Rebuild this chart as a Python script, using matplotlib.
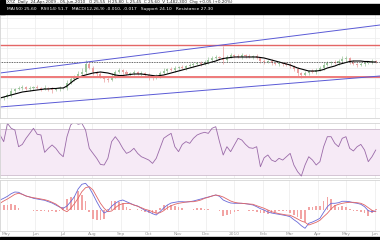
import numpy as np
import matplotlib
matplotlib.use("Agg")
import matplotlib.pyplot as plt
import matplotlib.dates as mdates
from matplotlib.patches import Rectangle
from matplotlib.ticker import FuncFormatter

# --- data (one point every 4 calendar days) ---
start = np.datetime64("2009-04-24")
dates = mdates.date2num(start + np.arange(102) * np.timedelta64(4, "D"))

close = [22.0, 22.1, 22.3, 22.7, 22.9, 23.0, 23.1, 22.9, 23.0, 23.1,
         23.0, 22.9, 23.0, 22.9, 22.8, 22.9, 23.0, 23.0, 23.5, 23.9,
         24.1, 24.4, 24.6, 25.4, 25.0, 24.6, 24.4, 24.1, 23.9, 23.8,
         24.2, 24.6, 24.8, 24.6, 24.4, 24.5, 24.6, 24.4, 24.5, 24.3,
         24.1, 24.0, 24.2, 24.5, 24.7, 24.9, 24.8, 25.0, 25.1, 25.0,
         25.2, 25.3, 25.4, 25.5, 25.4, 25.6, 25.8, 26.0, 26.1, 26.0,
         25.8, 26.1, 26.3, 26.2, 26.1, 26.3, 26.2, 26.1, 26.2, 26.0,
         25.7, 25.6, 25.7, 25.5, 25.4, 25.5, 25.4, 25.3, 25.2, 24.9,
         24.5, 24.3, 24.5, 24.7, 24.6, 24.8, 25.0, 25.3, 25.5, 25.6,
         25.5, 25.7, 25.9, 26.0, 25.6, 25.4, 25.3, 25.4, 25.5, 25.6,
         25.7, 25.6]
first_open = 21.9
wick_up = [0.2, 0.1, 0.2, 0.3, 0.1, 0.2, 0.2, 0.1, 0.2, 0.1,
           0.2, 0.1, 0.3, 0.1, 0.2, 0.1, 0.2, 0.1, 0.3, 0.2,
           0.2, 0.3, 0.4, 0.4, 0.2, 0.2, 0.1, 0.2, 0.1, 0.2,
           0.3, 0.2, 0.2, 0.1, 0.2, 0.1, 0.2, 0.1, 0.2, 0.1,
           0.2, 0.1, 0.2, 0.2, 0.3, 0.1, 0.2, 0.2, 0.1, 0.2,
           0.1, 0.2, 0.2, 0.1, 0.2, 0.2, 0.3, 0.2, 0.2, 0.1,
           1.2, 0.2, 0.2, 0.1, 0.2, 0.2, 0.1, 0.2, 0.1, 0.2,
           0.1, 0.2, 0.1, 0.2, 0.1, 0.2, 0.1, 0.2, 0.2, 0.1,
           0.2, 0.1, 0.2, 0.1, 0.2, 0.2, 0.2, 0.3, 0.2, 0.1,
           0.2, 0.2, 0.3, 0.2, 0.1, 0.2, 0.1, 0.2, 0.2, 0.1,
           0.2, 0.1]
wick_dn = [0.1, 0.2, 0.1, 0.2, 0.2, 0.1, 0.2, 0.1, 0.2, 0.2,
           0.1, 0.2, 0.1, 0.2, 0.3, 0.1, 0.2, 0.1, 0.2, 0.1,
           0.2, 0.1, 0.2, 0.2, 0.1, 0.3, 0.2, 0.1, 0.3, 0.2,
           0.1, 0.2, 0.1, 0.2, 0.1, 0.2, 0.2, 0.1, 0.2, 0.2,
           0.3, 0.2, 0.1, 0.2, 0.1, 0.2, 0.1, 0.2, 0.2, 0.1,
           0.2, 0.1, 0.2, 0.1, 0.2, 0.1, 0.2, 0.1, 0.2, 0.2,
           0.4, 0.2, 0.1, 0.2, 0.1, 0.2, 0.2, 0.1, 0.2, 0.1,
           0.2, 0.2, 0.1, 0.2, 0.1, 0.2, 0.2, 0.1, 0.2, 0.2,
           0.3, 0.3, 0.2, 0.2, 0.1, 0.2, 0.1, 0.2, 0.1, 0.2,
           0.1, 0.2, 0.1, 0.3, 0.2, 0.1, 0.2, 0.1, 0.2, 0.1,
           0.2, 0.1]
ma = [22.0, 22.1, 22.2, 22.3, 22.4, 22.5, 22.6, 22.65, 22.7, 22.75,
      22.8, 22.85, 22.9, 22.9, 22.95, 22.95, 23.0, 23.0,
      23.2, 23.5, 23.8, 24.0, 24.2, 24.3, 24.4, 24.5, 24.55, 24.6,
      24.55, 24.5, 24.4, 24.3, 24.25, 24.25, 24.3, 24.35, 24.4, 24.4,
      24.4, 24.35, 24.3, 24.25, 24.2, 24.25, 24.3, 24.4, 24.5, 24.6,
      24.7, 24.8, 24.9, 25.0, 25.1, 25.2, 25.3, 25.4, 25.5, 25.6,
      25.7, 25.85, 25.95, 26.0, 26.05,
      26.1, 26.1, 26.1, 26.1, 26.1, 26.1, 26.1, 26.05,
      26.0, 25.9, 25.8, 25.7, 25.6, 25.5, 25.4, 25.3, 25.15,
      25.0, 24.9, 24.8, 24.7, 24.7, 24.7, 24.75, 24.85, 25.0, 25.1,
      25.2, 25.35, 25.45, 25.55, 25.65, 25.7, 25.7, 25.7, 25.65, 25.65,
      25.6, 25.6]

resistance = 27.3
support = 24.1
pivot = 25.6
channel_upper = [24.5, 29.3]
channel_lower = [21.1, 24.2]

rsi = [64.8, 59.0, 74.9, 70.6, 69.1, 54.6, 56.6, 61.9, 66.2, 70.6,
       65.4, 64.8, 49.7, 53.2, 56.1, 53.2, 48.8, 45.9, 63.3, 73.5,
       76.4, 74.1, 74.9, 69.1, 53.2, 48.8, 44.5, 39.2, 38.7, 44.5,
       59.0, 63.3, 59.0, 53.2, 48.8, 50.3, 53.2, 48.8, 45.9, 44.5,
       43.0, 40.1, 44.5, 53.2, 61.9, 64.2, 66.2, 54.6, 50.3, 56.6,
       59.0, 57.5, 61.9, 64.8, 66.2, 67.1, 66.2, 70.6, 72.0, 59.0,
       47.4, 54.6, 50.3, 56.1, 61.9, 60.4, 56.6, 53.7, 53.2, 54.6,
       37.2, 45.0, 47.4, 43.0, 41.6, 44.5, 43.0, 45.9, 48.8, 38.7,
       32.9, 29.1, 38.7, 45.9, 43.0, 38.7, 41.6, 54.6, 63.3, 63.3,
       57.5, 54.6, 61.9, 63.3, 53.2, 50.9, 54.6, 56.6, 51.7, 41.6,
       45.9, 51.7]

macd = [0.100, 0.117, 0.137, 0.163, 0.180, 0.177, 0.157, 0.140, 0.130, 0.117,
        0.110, 0.103, 0.097, 0.083, 0.070, 0.050, 0.030, 0.017, 0.040, 0.083,
        0.133, 0.210, 0.257, 0.267, 0.223, 0.157, 0.083, 0.017, -0.030, -0.010,
        0.037, 0.067, 0.090, 0.100, 0.083, 0.067, 0.050, 0.040, 0.017, -0.003,
        -0.017, -0.037, -0.050, -0.017, 0.020, 0.050, 0.070, 0.077, 0.083, 0.083,
        0.080, 0.083, 0.090, 0.100, 0.110, 0.120, 0.130, 0.140, 0.150, 0.137,
        0.100, 0.083, 0.070, 0.067, 0.067, 0.067, 0.063, 0.057, 0.050, 0.033,
        0.013, 0.000, -0.020, -0.030, -0.037, -0.043, -0.050, -0.057, -0.067, -0.097,
        -0.123, -0.157, -0.183, -0.133, -0.120, -0.103, -0.083, -0.023, 0.033, 0.067,
        0.067, 0.073, 0.087, 0.087, 0.083, 0.073, 0.067, 0.057, 0.033, -0.007,
        -0.017, -0.010]
signal = [0.067, 0.090, 0.110, 0.133, 0.157, 0.167, 0.157, 0.140, 0.130, 0.123,
          0.117, 0.110, 0.103, 0.093, 0.077, 0.060, 0.033, 0.000, -0.017, 0.017,
          0.063, 0.117, 0.183, 0.223, 0.233, 0.200, 0.133, 0.067, 0.017, -0.017,
          -0.010, 0.023, 0.050, 0.063, 0.067, 0.063, 0.050, 0.037, 0.023, 0.007,
          -0.003, -0.017, -0.033, -0.027, -0.007, 0.023, 0.043, 0.057, 0.067, 0.073,
          0.080, 0.083, 0.083, 0.090, 0.100, 0.117, 0.127, 0.140, 0.150, 0.143,
          0.130, 0.110, 0.090, 0.077, 0.070, 0.067, 0.063, 0.060, 0.057, 0.043,
          0.030, 0.017, 0.000, -0.017, -0.027, -0.037, -0.043, -0.050, -0.053, -0.070,
          -0.090, -0.110, -0.123, -0.150, -0.137, -0.123, -0.103, -0.067, -0.033, 0.010,
          0.043, 0.057, 0.067, 0.073, 0.077, 0.077, 0.073, 0.067, 0.050, 0.023,
          -0.003, -0.017]

header_top = "XYZ  Daily  24-Apr-2009 - 05-Jun-2010   O 25.55  H 25.80  L 25.45  C 25.60  V 1,482,300  Chg +0.05 (+0.20%)"
header_band = "MA(50) 25.60   RSI(14) 51.7   MACD(12,26,9) -0.010, -0.017   Support 24.10   Resistance 27.30"

# --- figure ---
W, H = 380, 240
fig = plt.figure(figsize=(W / 100, H / 100), dpi=100)
fig.patch.set_facecolor("white")

def frac(top, bottom):
    return [0.0, 1 - bottom / H, 1.0, (bottom - top) / H]

ax = fig.add_axes(frac(14, 118))
ax_rsi = fig.add_axes(frac(123, 178), sharex=ax)
ax_macd = fig.add_axes(frac(180, 231), sharex=ax)

x0 = mdates.date2num(start)
x1 = x0 + W / 0.93
grid_c = "#ececec"

for a in (ax, ax_rsi, ax_macd):
    a.set_xlim(x0, x1)
    a.tick_params(length=0, labelleft=False, labelbottom=False)
    a.xaxis.set_major_locator(mdates.MonthLocator())
    a.grid(axis="x", color=grid_c, lw=0.5)
    a.set_axisbelow(True)
    for s in a.spines.values():
        s.set_color("#d4d4d4")
        s.set_linewidth(0.6)

# price panel
opens = np.array([first_open] + close[:-1])
closes = np.array(close)
highs = np.maximum(opens, closes) + np.array(wick_up)
lows = np.minimum(opens, closes) - np.array(wick_dn)
colors = np.where(closes >= opens, "#9cc59c", "#eaa0a0")
ax.vlines(dates, lows, highs, colors=colors, lw=0.5)
ax.bar(dates, closes - opens, bottom=opens, width=2.2, color=colors, lw=0)

ax.plot(dates, ma, color="black", lw=0.8)
ax.axhline(resistance, color="#e46666", lw=1.0)
ax.axhline(support, color="#ee7a7a", lw=1.4)
ax.axhline(pivot, color="#333333", lw=0.6, ls=(0, (1, 1)))
ax.plot([x0, x1], channel_upper, color="#5a5ad6", lw=0.7)
ax.plot([x0, x1], channel_lower, color="#5a5ad6", lw=0.7)
ax.set_ylim(20.0, 30.4)
ax.grid(axis="y", color=grid_c, lw=0.5)
ax.yaxis.set_major_locator(plt.MultipleLocator(1.0))

# RSI panel
ax_rsi.axhspan(30, 70, color="#f6eaf6", lw=0)
ax_rsi.axhline(70, color="#cdbccd", lw=0.6)
ax_rsi.axhline(30, color="#cdbccd", lw=0.6)
ax_rsi.plot(dates, rsi, color="#9a6aa8", lw=0.6)
ax_rsi.set_ylim(27.4, 75.2)

# MACD panel
hist = np.array(macd) - np.array(signal)
ax_macd.bar(dates, hist * 2, width=1.8, color="#f2a4a4", lw=0)
ax_macd.plot(dates, macd, color="#6a6ad8", lw=0.6)
ax_macd.plot(dates, signal, color="#e06666", lw=0.6)
ax_macd.set_ylim(-0.21, 0.30)

def month_fmt(v, pos):
    d = mdates.num2date(v)
    return str(d.year) if d.month == 1 else d.strftime("%b")

ax_macd.xaxis.set_major_formatter(FuncFormatter(month_fmt))
ax_macd.tick_params(labelbottom=True, labelsize=3.2, labelcolor="#999999", pad=1)

# header and footer bands
fig.patches.append(Rectangle((0, 1 - 14 / H), 1, 10 / H, transform=fig.transFigure,
                             color="black", zorder=0))
fig.patches.append(Rectangle((0, 1 - 14 / H), 5 / W, 14 / H, transform=fig.transFigure,
                             color="black", zorder=0))
fig.patches.append(Rectangle((0, 0), 1, 3 / H, transform=fig.transFigure,
                             color="black", zorder=0))
fig.text(7 / W, 1 - 2.2 / H, header_top, fontsize=3.0, color="#222222", va="center")
fig.text(7 / W, 1 - 9 / H, header_band, fontsize=3.2, color="white", va="center")

fig.savefig("out.png", dpi=100)
